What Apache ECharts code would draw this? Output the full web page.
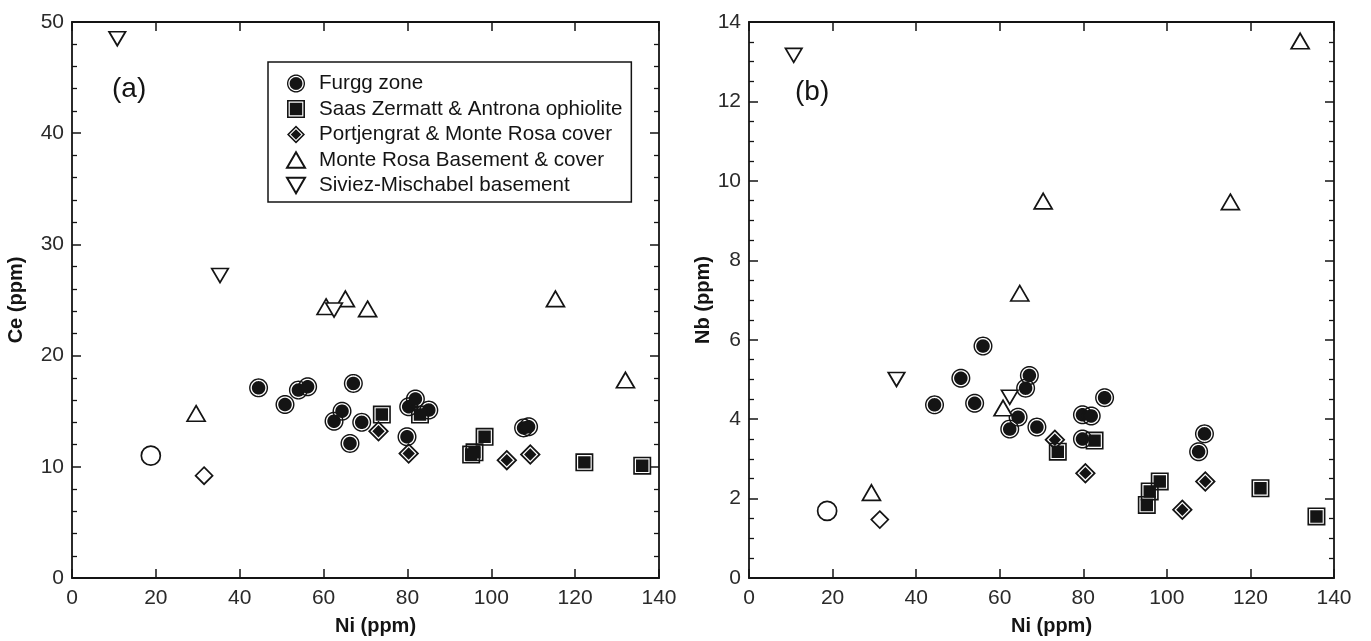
<!DOCTYPE html>
<html><head><meta charset="utf-8">
<script src="https://cdn.jsdelivr.net/npm/echarts@6/dist/echarts.min.js"></script>
<style>html,body{margin:0;padding:0;background:#fff}#c{width:1371px;height:641px}</style>
</head><body><div id="c"></div>
<script>
// ---------- DATA ----------
const seriesNames = ['Furgg zone', 'Saas Zermatt & Antrona ophiolite', 'Portjengrat & Monte Rosa cover', 'Monte Rosa Basement & cover', 'Siviez-Mischabel basement'];

// Panel (a): Ni vs Ce
const furggA_ni = [44.5, 50.8, 54.0, 56.2, 62.5, 64.4, 66.3, 67.1, 69.1, 79.9, 80.3, 81.9, 85.1, 107.7, 108.9];
const furggA_ce = [17.1, 15.6, 16.9, 17.2, 14.1, 15.0, 12.1, 17.5, 14.0, 12.7, 15.4, 16.1, 15.1, 13.5, 13.6];
const saasA_ni = [73.9, 83.0, 95.2, 96.0, 98.4, 122.2, 136.0];
const saasA_ce = [14.7, 14.7, 11.1, 11.3, 12.7, 10.4, 10.1];
const portA_ni = [73.1, 80.3, 103.7, 109.3];
const portA_ce = [13.2, 11.2, 10.6, 11.1];
const monteA_ni = [29.6, 60.6, 65.2, 70.5, 115.3, 132.0];
const monteA_ce = [14.8, 24.4, 25.1, 24.2, 25.1, 17.8];
const sivA_ni = [10.8, 35.3, 62.5];
const sivA_ce = [48.5, 27.2, 24.1];
const openCircleA = [[18.8, 11.0]];
const openDiamondA = [[31.5, 9.2]];

// Panel (b): Ni vs Nb
const furggB_ni = [44.4, 50.7, 54.0, 56.0, 62.4, 64.4, 66.2, 67.1, 68.9, 79.8, 79.8, 81.9, 85.1, 107.6, 109.0];
const furggB_nb = [4.36, 5.03, 4.40, 5.84, 3.75, 4.05, 4.78, 5.10, 3.80, 4.11, 3.50, 4.08, 4.54, 3.18, 3.63];
const saasB_ni = [73.9, 82.7, 95.2, 95.9, 98.3, 122.4, 135.8];
const saasB_nb = [3.18, 3.46, 1.84, 2.18, 2.43, 2.26, 1.55];
const portB_ni = [73.2, 80.5, 103.7, 109.2];
const portB_nb = [3.48, 2.64, 1.72, 2.43];
const monteB_ni = [29.3, 60.8, 64.8, 70.4, 115.2, 131.9];
const monteB_nb = [2.15, 4.28, 7.17, 9.49, 9.47, 13.52];
const sivB_ni = [10.7, 35.3, 62.4];
const sivB_nb = [13.16, 5.0, 4.55];
const openCircleB = [[18.7, 1.69]];
const openDiamondB = [[31.3, 1.47]];

// Axis scales
const niAxis = {min: 0, max: 140, interval: 20};
const ceAxis = {min: 0, max: 50, interval: 10, minor: 5};
const nbAxis = {min: 0, max: 14, interval: 2, minor: 4};

// ---------- STYLE ----------
const FONT = '"Liberation Sans", Arial, Helvetica, sans-serif';
const INK = '#141414';

function circlePoly(r, dir) {
  const n = 48, pts = [];
  for (let i = 0; i < n; i++) {
    const a = dir * i / n * Math.PI * 2;
    pts.push((10 + r * Math.cos(a)).toFixed(3) + ',' + (10 + r * Math.sin(a)).toFixed(3));
  }
  return 'M' + pts.join(' L') + ' Z ';
}
const symDoubleCircle = 'path://' + circlePoly(10, 1) + circlePoly(8.5, -1) + circlePoly(7.1, 1);
const symDoubleSquare = 'path://M0,0 L20,0 L20,20 L0,20 Z M1.8,1.8 L1.8,18.2 L18.2,18.2 L18.2,1.8 Z M3.1,3.1 L16.9,3.1 L16.9,16.9 L3.1,16.9 Z';
const symDoubleDiamond = 'path://M10,0 L20,10 L10,20 L0,10 Z M10,2.4 L2.4,10 L10,17.6 L17.6,10 Z M10,4.1 L15.9,10 L10,15.9 L4.1,10 Z';
const symUp = 'path://M10,0 L20,17.32 L0,17.32 Z';
const symDown = 'path://M0,0 L20,0 L10,17.32 Z';
const symDiamond = 'path://M10,0 L20,10 L10,20 L0,10 Z';

const filled = {color: INK, borderWidth: 0, opacity: 1};
const open = {color: '#fff', borderColor: INK, borderWidth: 1.7, opacity: 1};

function zip(a, b) { return a.map((v, i) => [v, b[i]]); }

function xAxes(grid) {
  const base = {
    gridIndex: grid, type: 'value', min: niAxis.min, max: niAxis.max, interval: niAxis.interval,
    axisLine: {onZero: false, lineStyle: {color: INK, width: 1.8}},
    axisTick: {inside: true, length: 9, lineStyle: {color: INK, width: 1.5}},
    splitLine: {show: false}
  };
  return [
    Object.assign({}, base, {
      position: 'bottom',
      axisLabel: {fontSize: 21, color: '#2a2a2a', margin: 10, fontFamily: FONT},
      name: 'Ni (ppm)', nameLocation: 'middle', nameGap: 38,
      nameTextStyle: {fontSize: 20, fontWeight: 'bold', color: INK, fontFamily: FONT, padding: [0, 0, 0, 20]}
    }),
    Object.assign({}, base, {position: 'top', axisLabel: {show: false}})
  ];
}
function yAxes(grid, sc, name, gap) {
  const base = {
    gridIndex: grid, type: 'value', min: sc.min, max: sc.max, interval: sc.interval,
    axisLine: {onZero: false, lineStyle: {color: INK, width: 1.8}},
    axisTick: {inside: true, length: 9, lineStyle: {color: INK, width: 1.5}},
    minorTick: {show: true, splitNumber: sc.minor, length: 5, lineStyle: {color: INK, width: 1.3}},
    splitLine: {show: false}
  };
  return [
    Object.assign({}, base, {
      position: 'left',
      axisLabel: {fontSize: 21, color: '#2a2a2a', margin: 8, fontFamily: FONT},
      name: name, nameLocation: 'middle', nameGap: gap,
      nameTextStyle: {fontSize: 20, fontWeight: 'bold', color: INK, fontFamily: FONT}
    }),
    Object.assign({}, base, {position: 'right', axisLabel: {show: false}})
  ];
}

function panelSeries(xi, yi, d) {
  const common = {type: 'scatter', xAxisIndex: xi, yAxisIndex: yi, silent: true, emphasis: {disabled: true}};
  return [
    Object.assign({}, common, {name: seriesNames[0], data: d.furgg, symbol: symDoubleCircle, symbolSize: 19, itemStyle: filled}),
    Object.assign({}, common, {name: seriesNames[2], data: d.port, symbol: symDoubleDiamond, symbolSize: 21, itemStyle: filled}),
    Object.assign({}, common, {name: seriesNames[1], data: d.saas, symbol: symDoubleSquare, symbolSize: 18, itemStyle: filled}),
    Object.assign({}, common, {name: seriesNames[3], data: d.monte, symbol: symUp, symbolSize: [18, 15.5], itemStyle: open}),
    Object.assign({}, common, {name: seriesNames[4], data: d.siv, symbol: symDown, symbolSize: [16.5, 14], itemStyle: open}),
    Object.assign({}, common, {name: 'open circle', data: d.oc, symbol: 'circle', symbolSize: 19, itemStyle: open}),
    Object.assign({}, common, {name: 'open diamond', data: d.od, symbol: symDiamond, symbolSize: 17, itemStyle: open})
  ];
}

const option = {
  backgroundColor: '#fff',
  animation: false,
  grid: [
    {left: 72, top: 22, width: 587, height: 556},
    {left: 749, top: 22, width: 585, height: 556}
  ],
  xAxis: xAxes(0).concat(xAxes(1)),
  yAxis: yAxes(0, ceAxis, 'Ce (ppm)', 46).concat(yAxes(1, nbAxis, 'Nb (ppm)', 30)),
  legend: {
    data: seriesNames,
    orient: 'vertical', left: 268, top: 62,
    backgroundColor: '#fff',
    borderColor: INK, borderWidth: 1.5,
    padding: [11, 9, 6, 18],
    itemGap: 4.5, itemWidth: 18, itemHeight: 18,
    selectedMode: false,
    textStyle: {fontSize: 20.6, lineHeight: 20, color: INK, fontFamily: FONT, padding: [0, 0, 0, 9]}
  },
  graphic: [
    {type: 'text', left: 112, top: 75, style: {text: '(a)', fontSize: 28, fontFamily: FONT, fill: INK}},
    {type: 'text', left: 795, top: 78, style: {text: '(b)', fontSize: 28, fontFamily: FONT, fill: INK}}
  ],
  series: panelSeries(0, 0, {
    furgg: zip(furggA_ni, furggA_ce), saas: zip(saasA_ni, saasA_ce), port: zip(portA_ni, portA_ce),
    monte: zip(monteA_ni, monteA_ce), siv: zip(sivA_ni, sivA_ce), oc: openCircleA, od: openDiamondA
  }).concat(panelSeries(2, 2, {
    furgg: zip(furggB_ni, furggB_nb), saas: zip(saasB_ni, saasB_nb), port: zip(portB_ni, portB_nb),
    monte: zip(monteB_ni, monteB_nb), siv: zip(sivB_ni, sivB_nb), oc: openCircleB, od: openDiamondB
  }))
};

const chart = echarts.init(document.getElementById('c'), null, {renderer: 'canvas'});
chart.setOption(option);
</script></body></html>
